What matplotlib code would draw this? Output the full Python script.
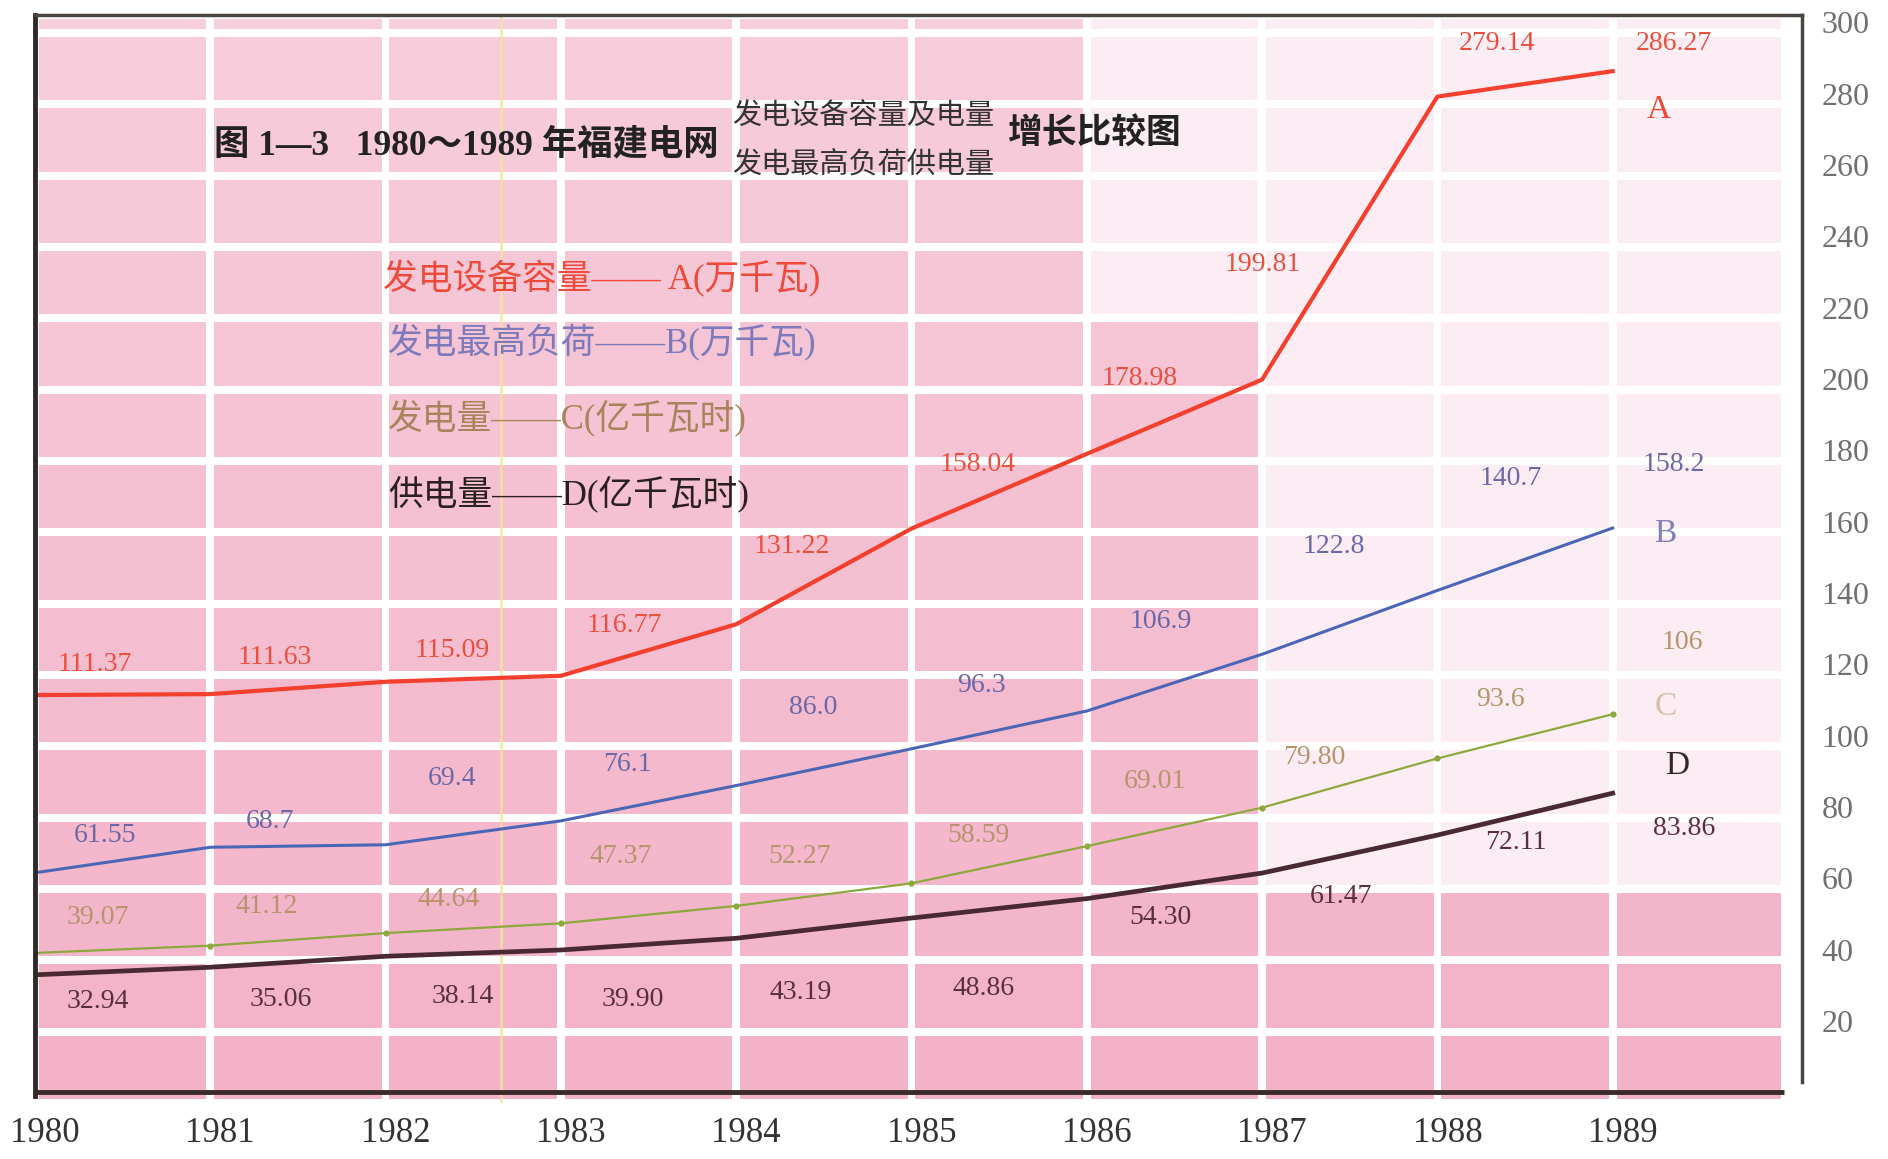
import matplotlib
matplotlib.use('Agg')
import matplotlib.pyplot as plt
import matplotlib.transforms as mtransforms
from matplotlib.patches import Rectangle

# 数据：1980~1989 年福建电网
years = [1980, 1981, 1982, 1983, 1984, 1985, 1986, 1987, 1988, 1989]
cap_a = [111.37, 111.63, 115.09, 116.77, 131.22, 158.04, 178.98, 199.81, 279.14, 286.27]   # 发电设备容量 万千瓦
load_b = [61.55, 68.7, 69.4, 76.1, 86.0, 96.3, 106.9, 122.8, 140.7, 158.2]                 # 发电最高负荷 万千瓦
gen_c = [39.07, 41.12, 44.64, 47.37, 52.27, 58.59, 69.01, 79.80, 93.6, 106]                # 发电量 亿千瓦时
sup_d = [32.94, 35.06, 38.14, 39.90, 43.19, 48.86, 54.30, 61.47, 72.11, 83.86]             # 供电量 亿千瓦时
label_a = ['111.37', '111.63', '115.09', '116.77', '131.22', '158.04', '178.98', '199.81', '279.14', '286.27']
label_b = ['61.55', '68.7', '69.4', '76.1', '86.0', '96.3', '106.9', '122.8', '140.7', '158.2']
label_c = ['39.07', '41.12', '44.64', '47.37', '52.27', '58.59', '69.01', '79.80', '93.6', '106']
label_d = ['32.94', '35.06', '38.14', '39.90', '43.19', '48.86', '54.30', '61.47', '72.11', '83.86']
yticks = [20, 40, 60, 80, 100, 120, 140, 160, 180, 200, 220, 240, 260, 280, 300]

# 数值标注的位置（版面）
pos_a = [(1980.34, 120), (1981.37, 122), (1982.38, 124), (1983.36, 131), (1984.32, 153),
         (1985.38, 176), (1986.30, 200), (1987.0, 232), (1988.34, 294), (1989.35, 294)]
pos_b = [(1980.40, 72), (1981.34, 76), (1982.38, 88), (1983.38, 92), (1984.44, 108),
         (1985.40, 114), (1986.42, 132), (1987.41, 153), (1988.42, 172), (1989.35, 176)]
pos_c = [(1980.36, 49), (1981.32, 52), (1982.36, 54), (1983.34, 66), (1984.36, 66),
         (1985.38, 72), (1986.39, 87), (1987.30, 94), (1988.36, 110), (1989.40, 126)]
pos_d = [(1980.36, 25.5), (1981.40, 26), (1982.44, 27), (1983.41, 26), (1984.37, 28),
         (1985.41, 29), (1986.42, 49), (1987.45, 55), (1988.45, 70), (1989.41, 74)]

fam = ['Liberation Serif', 'Noto Sans CJK SC', 'DejaVu Sans']
plt.rcParams['font.family'] = fam

fig = plt.figure(figsize=(18.88, 11.59), dpi=100)
ax = fig.add_axes([35 / 1888, 0.0483, (1802 - 35) / 1888, 0.9387])
ax.set_xlim(1980, 1990.08)
ax.set_ylim(-3, 302)

# 粉色方格底纹
rows = [-3] + [17 + 20 * k for k in range(15)] + [302]
for i in range(10):
    x0 = 1980 + i
    x1 = x0 + 1 if i < 9 else 1989.98
    for j in range(len(rows) - 1):
        y0, y1 = rows[j], rows[j + 1]
        t = min(max(y0, 0) / 300, 1)
        r = 243 + 3 * t
        g = 178 + 28 * t
        b = 200 + 20 * t
        if (x0 >= 1987 and y0 >= 57) or (x0 >= 1986 and y0 >= 217):
            r, g, b = 252, 236, 243
        ax.add_patch(Rectangle((x0 + 0.022, y0 + 1.1), x1 - x0 - 0.044, y1 - y0 - 2.2,
                               color=(r / 255, g / 255, b / 255), lw=0, zorder=0))
ax.axvline(1982.66, color='#f3e3a0', lw=2, alpha=0.8, zorder=0.5)

# 四条曲线
ax.plot(years, cap_a, color='#f3402e', lw=3.0, zorder=3)
ax.plot(years, load_b, color='#4b66b6', lw=2.2, zorder=3)
ax.plot(years, gen_c, color='#8da83c', lw=1.6, marker='o', ms=3.5, zorder=3)
ax.plot(years, sup_d, color='#4a2a32', lw=3.4, zorder=3)
ax.plot([1980, 1989.98], [0, 0], color='#3a2a2a', lw=3.5, zorder=3, solid_capstyle='butt')

for s, p in zip(label_a, pos_a):
    ha = 'right' if s == '199.81' else 'center'
    xx = p[0] + 0.22 if ha == 'right' else p[0]
    ax.text(xx, p[1], s, color='#e9503e', fontsize=20, ha=ha, va='center', zorder=4)
for s, p in zip(label_b, pos_b):
    ax.text(p[0], p[1], s, color='#6a68a6', fontsize=20, ha='center', va='center', zorder=4)
for s, p in zip(label_c, pos_c):
    ax.text(p[0], p[1], s, color='#b6946c', fontsize=20, ha='center', va='center', zorder=4)
for s, p in zip(label_d, pos_d):
    ax.text(p[0], p[1], s, color='#5a3040', fontsize=20, ha='center', va='center', zorder=4)

ax.text(1989.26, 275.5, 'A', color='#ee4632', fontsize=24, ha='center', va='center')
ax.text(1989.30, 156.5, 'B', color='#8080b8', fontsize=24, ha='center', va='center')
ax.text(1989.30, 108, 'C', color='#d8c0a8', fontsize=24, ha='center', va='center')
ax.text(1989.37, 91.5, 'D', color='#3a2228', fontsize=24, ha='center', va='center')

# 轴
for side in ['left', 'right', 'top', 'bottom']:
    ax.spines[side].set_visible(False)
ax.plot([1980, 1980], [-1, 302], color='#2e2a26', lw=3.5, zorder=5, clip_on=False)
ax.plot([1980, 1990.08], [302, 302], color='#4a4540', lw=2.5, zorder=5, clip_on=False)
ax.plot([1990.08, 1990.08], [3, 302], color='#4a4540', lw=2.5, zorder=5, clip_on=False)

ax.set_xticks(years)
ax.set_xticklabels([str(y) for y in years], fontsize=25, color='#333333')
ax.tick_params(axis='x', length=0, pad=10)
shift = mtransforms.ScaledTranslation(10 / 100, 0, fig.dpi_scale_trans)
for lab in ax.get_xticklabels():
    lab.set_transform(lab.get_transform() + shift)
ax.yaxis.tick_right()
ax.set_yticks(yticks)
ax.set_yticklabels([str(v) for v in yticks], fontsize=23, color='#707070')
ax.tick_params(axis='y', length=0, pad=14)


def px(x, y):
    return x / 1888, 1 - y / 1159


# 标题
fig.text(*px(214, 146), '图 1—3   1980～1989 年福建电网', fontsize=25.5, color='#222222',
         ha='left', va='center', fontweight='bold')
fig.text(*px(732, 117), '发电设备容量及电量', fontsize=21, color='#333333', ha='left', va='center')
fig.text(*px(732, 165), '发电最高负荷供电量', fontsize=21, color='#333333', ha='left', va='center')
fig.text(*px(1007, 135), '增长比较图', fontsize=25, color='#222222', ha='left', va='center',
         fontweight='bold')

# 图例文字
fig.text(*px(383, 279), '发电设备容量—— A(万千瓦)', fontsize=25, color='#ee4a3a', ha='left', va='center')
fig.text(*px(388, 343), '发电最高负荷——B(万千瓦)', fontsize=25, color='#7c7abb', ha='left', va='center')
fig.text(*px(388, 419), '发电量——C(亿千瓦时)', fontsize=25, color='#a8845c', ha='left', va='center')
fig.text(*px(388, 494), '供电量——D(亿千瓦时)', fontsize=25, color='#2a2020', ha='left', va='center')

plt.savefig('out.png', dpi=100, facecolor='white')
